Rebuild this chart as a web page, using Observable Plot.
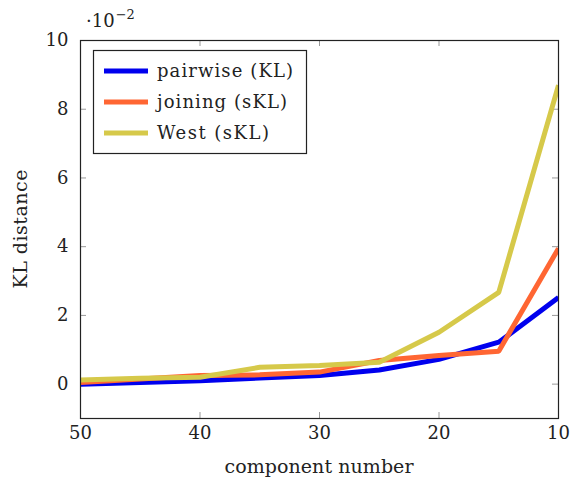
<!DOCTYPE html>
<html><head><meta charset="utf-8">
<script src="https://cdn.jsdelivr.net/npm/d3@7"></script>
<script src="https://cdn.jsdelivr.net/npm/@observablehq/plot@0.6"></script>
<style>body{margin:0;background:#fff} svg text{font-family:"DejaVu Serif" !important;}</style>
</head><body><div id="chart"></div>
<script>
const components = [50, 45, 40, 35, 30, 25, 20, 15, 10];
const pairwiseKL = [0.0, 0.05, 0.1, 0.18, 0.25, 0.41, 0.72, 1.22, 2.52];
const joiningSKL = [0.05, 0.15, 0.25, 0.27, 0.35, 0.69, 0.83, 0.96, 3.95];
const westSKL = [0.12, 0.17, 0.2, 0.49, 0.54, 0.64, 1.51, 2.67, 8.7];
const seriesNames = ["pairwise (KL)", "joining (sKL)", "West (sKL)"];
const seriesColors = ["#0000ee", "#ff6633", "#d6c94a"];
const xTicks = [50, 40, 30, 20, 10];
const yTicks = [0, 2, 4, 6, 8, 10];

const font = "DejaVu Serif";
const W = 572, H = 480, mL = 80, mR = 14, mT = 40, mB = 62;
const pw = W - mL - mR, ph = H - mT - mB;

const seriesValues = [pairwiseKL, joiningSKL, westSKL];
const rows = seriesNames.flatMap((name, i) => components.map((c, j) => ({series: name, x: c, y: seriesValues[i][j]})));

const chart = Plot.plot({
  width: W, height: H,
  marginLeft: mL, marginRight: mR, marginTop: mT, marginBottom: mB,
  style: {fontFamily: font, fontSize: "18px", color: "#222", background: "#fff"},
  x: {domain: [50, 10], label: null},
  y: {domain: [-1, 10], label: null},
  color: {domain: seriesNames, range: seriesColors},
  marks: [
    Plot.tickX(xTicks, {x: d => d, stroke: "#999", insetTop: ph - 6}),
    Plot.tickX(xTicks, {x: d => d, stroke: "#999", insetBottom: ph - 6}),
    Plot.tickY(yTicks, {y: d => d, stroke: "#999", insetRight: pw - 6}),
    Plot.tickY(yTicks, {y: d => d, stroke: "#999", insetLeft: pw - 6}),
    Plot.line(rows, {x: "x", y: "y", z: "series", stroke: "series", strokeWidth: 5, strokeLinejoin: "miter", strokeLinecap: "butt", clip: "frame"}),
    Plot.frame({stroke: "#222", strokeWidth: 1.2}),
    Plot.axisX(xTicks, {anchor: "bottom", tickSize: 0, tickPadding: 8, fontSize: 18, label: null}),
    Plot.axisY(yTicks, {anchor: "left", tickSize: 0, tickPadding: 12, fontSize: 18, label: null})
  ]
});

const svg = d3.select(chart);
const txt = (sel) => sel.attr("fill", "#222");
// axis labels
txt(svg.append("text")).attr("x", mL + pw / 2).attr("y", 473).attr("text-anchor", "middle")
  .attr("font-size", 19).attr("textLength", 189).attr("lengthAdjust", "spacing").text("component number");
txt(svg.append("text")).attr("transform", `translate(27,${mT + ph / 2}) rotate(-90)`).attr("text-anchor", "middle")
  .attr("font-size", 19).attr("textLength", 119).attr("lengthAdjust", "spacing").text("KL distance");
// exponent
const ex = txt(svg.append("text")).attr("x", 86).attr("y", 27).attr("text-anchor", "start").attr("font-size", 18);
ex.append("tspan").text("\u00b710");
ex.append("tspan").attr("dy", -8).attr("dx", 1).attr("font-size", 13).text("\u22122");
// legend
const legendWidths = [136, 130, 112];
const lg = svg.append("g");
lg.append("rect").attr("x", 93.5).attr("y", 50.5).attr("width", 213).attr("height", 103)
  .attr("fill", "#fff").attr("stroke", "#222").attr("stroke-width", 1.2);
seriesNames.forEach((n, i) => {
  const yy = 71 + i * 31;
  lg.append("line").attr("x1", 104).attr("x2", 148).attr("y1", yy).attr("y2", yy)
    .attr("stroke", seriesColors[i]).attr("stroke-width", 5);
  txt(lg.append("text")).attr("x", 157).attr("y", yy + 6).attr("text-anchor", "start")
    .attr("font-size", 18).attr("textLength", legendWidths[i]).attr("lengthAdjust", "spacing").text(n);
});

document.getElementById("chart").appendChild(chart);
</script>
</body></html>
